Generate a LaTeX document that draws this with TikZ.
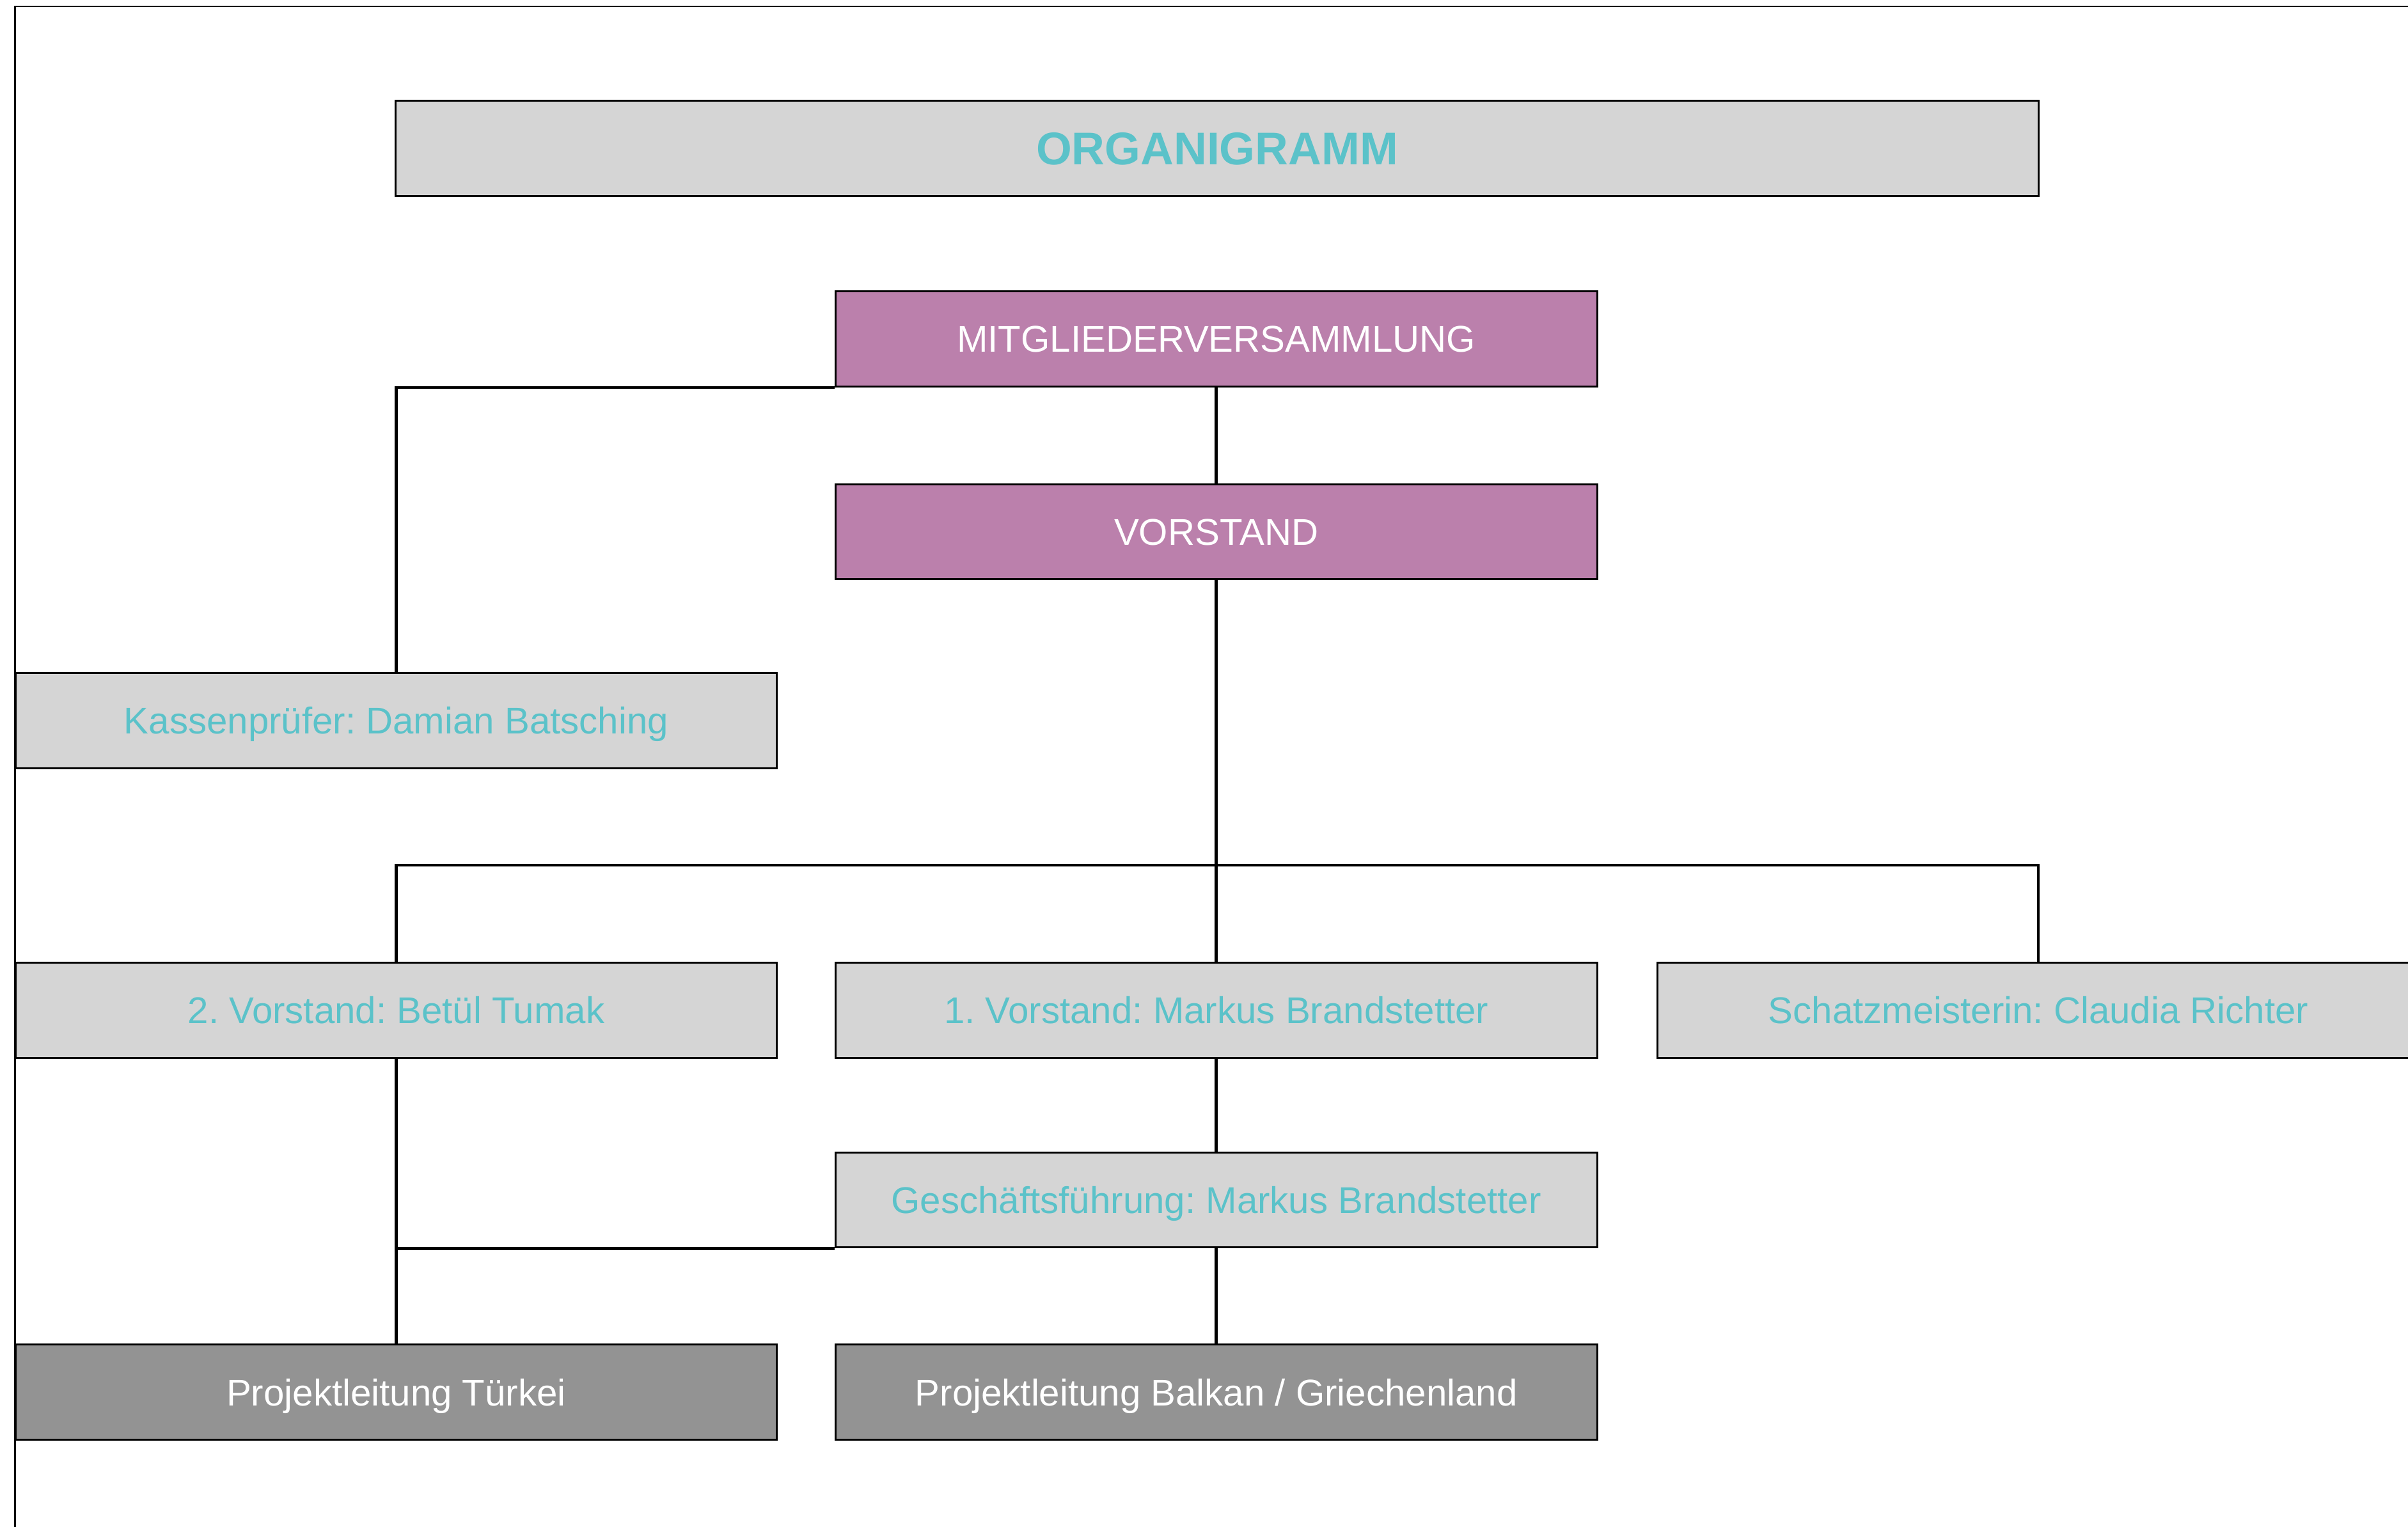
\documentclass[tikz,border=0pt]{standalone}
\usepackage{fontspec}
\setmainfont{Liberation Sans}
\frenchspacing
\definecolor{boxgray}{HTML}{D5D5D5}
\definecolor{darkbox}{HTML}{939393}
\definecolor{mauve}{HTML}{BB80AC}
\definecolor{teal}{HTML}{5BC2C9}
\tikzset{
  base/.style={draw=black, line width=0.7pt, inner sep=0pt, minimum width=9.92cm, minimum height=1.24cm,
    text height=9.9pt, text depth=0pt, font=\fontsize{13.8}{16}\selectfont\frenchspacing},
  graybox/.style={base, fill=boxgray, text=teal},
  mauvebox/.style={base, fill=mauve, text=white},
  darkbox/.style={base, fill=darkbox, text=white},
  titlebox/.style={base, fill=boxgray, text=teal, minimum width=21.4cm, text height=12.2pt,
    font=\fontsize{17}{20}\bfseries\selectfont},
  conn/.style={draw=black, line width=1.1pt},
  frameline/.style={draw=black, line width=0.6pt}
}
\begin{document}
\begin{tikzpicture}[x=0.02cm, y=-0.02cm]
\useasboundingbox (0,0) rectangle (1568,994.5);
\draw[frameline] (9.8,1000) -- (9.8,4.2) -- (1575,4.2);
% nodes
\node[titlebox] (title) at (792.5,96.7) {ORGANIGRAMM};
\node[mauvebox] (mv) at (792,220.7) {MITGLIEDERVERSAMMLUNG};
\node[mauvebox] (v) at (792,346.3) {VORSTAND};
\node[graybox] (k) at (258,469.2) {Kassenprüfer: Damian Batsching};
\node[graybox] (v2) at (258,658) {2. Vorstand: Betül Tumak};
\node[graybox] (v1) at (792,658) {1. Vorstand: Markus Brandstetter};
\node[graybox] (sm) at (1327.3,658) {Schatzmeisterin: Claudia Richter};
\node[graybox] (g) at (792,781.5) {Geschäftsführung: Markus Brandstetter};
\node[darkbox] (pt) at (258,906.7) {Projektleitung Türkei};
\node[darkbox] (pb) at (792,906.7) {Projektleitung Balkan / Griechenland};
% connectors
\coordinate (bus) at (792,563.5);
\draw[conn] (mv.south west) -| (k.north);
\draw[conn] (mv.south) -- (v.north);
\draw[conn] (v.south) -- (bus);
\draw[conn] (bus) -| (v2.north);
\draw[conn] (bus) -| (sm.north);
\draw[conn] (bus) -- (v1.north);
\draw[conn] (v1.south) -- (g.north);
\draw[conn] (v2.south) -- (pt.north);
\draw[conn] (g.south west) -- (g.south west -| pt.north);
\draw[conn] (g.south) -- (pb.north);
\end{tikzpicture}
\end{document}
